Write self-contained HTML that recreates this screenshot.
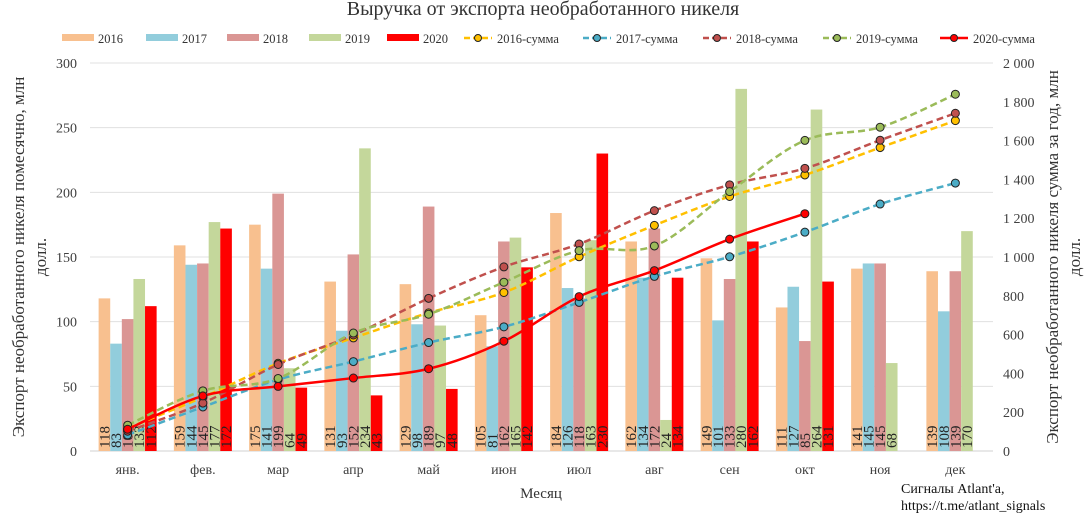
<!DOCTYPE html>
<html><head><meta charset="utf-8"><style>
body{margin:0;background:#fff;font-family:"Liberation Serif",serif;}
svg text{font-family:"Liberation Serif",serif;}
</style></head><body>
<svg id="c" width="1086" height="515" xmlns="http://www.w3.org/2000/svg"></svg>
<script>
const months=["янв.","фев.","мар","апр","май","июн","июл","авг","сен","окт","ноя","дек"];
const years=["2016","2017","2018","2019","2020"];
const v2016=[118,159,175,131,129,105,184,162,149,111,141,139];
const v2017=[83,144,141,93,98,81,126,134,101,127,145,108];
const v2018=[102,145,199,152,189,162,118,172,133,85,145,139];
const v2019=[133,177,64,234,97,165,163,24,280,264,68,170];
const v2020=[112,172,49,43,48,142,230,134,162,131];
const leftTicks=[0,50,100,150,200,250,300];
const rightTicks=[0,200,400,600,800,1000,1200,1400,1600,1800,2000];
const rightLabels=["0","200","400","600","800","1 000","1 200","1 400","1 600","1 800","2 000"];
const barColors=["#f8c08f","#92cddc","#da9694","#c4d79b","#ff0000"];
const lineColors=["#ffc000","#4bacc6","#c0504d","#9bbb59","#ff0000"];
const series=[v2016,v2017,v2018,v2019,v2020];
const svg=document.getElementById('c');const NS="http://www.w3.org/2000/svg";
function el(t,a,p){const e=document.createElementNS(NS,t);for(const k in a)e.setAttribute(k,a[k]);(p||svg).appendChild(e);return e;}
const x0=90,x1=993,yTop=63,yBot=451;
const cw=(x1-x0)/12;
const yL=v=>yBot-v/300*(yBot-yTop);
const yR=v=>yBot-v/2000*(yBot-yTop);
const xc=i=>x0+cw*(i+0.5);
let t=el('text',{x:543,y:15,'font-size':20,'text-anchor':'middle',fill:'#333'});t.textContent="Выручка от экспорта необработанного никеля";

leftTicks.forEach(v=>{const g=el('line',{x1:x0,x2:x1,y1:yL(v),y2:yL(v),stroke:v==0?'#d0d0d0':'#e0e0e0'});

const l=el('text',{x:77,y:yL(v)+5,'font-size':14,'text-anchor':'end',fill:'#404040'});l.textContent=v;
});
rightTicks.forEach((v,i)=>{const l=el('text',{x:1003,y:yR(v)+5,'font-size':14,fill:'#404040'});l.textContent=rightLabels[i];
});
months.forEach((m,i)=>{const l=el('text',{x:xc(i),y:474,'font-size':14,'text-anchor':'middle',fill:'#404040'});l.textContent=m;
});
const bw=11.6;
series.forEach((s,k)=>{s.forEach((v,i)=>{const bx=xc(i)-2.5*bw+k*bw;
const r=el('rect',{x:bx,y:yL(v),width:bw,height:yBot-yL(v),fill:barColors[k]});

const tx=el('text',{x:0,y:0,'font-size':15,fill:'#222',transform:`translate(${bx+bw/2+5},${yBot-3}) rotate(-90)`});tx.textContent=v;
});});
series.forEach((s,k)=>{let c=0;const pts=s.map((v,i)=>{c+=v;return [xc(i),yR(c)];});
let d="M"+pts[0][0]+","+pts[0][1];
for(let i=1;i<pts.length;i++){const p0=pts[Math.max(i-2,0)],p1=pts[i-1],p2=pts[i],p3=pts[Math.min(i+1,pts.length-1)];
d+=` C${p1[0]+(p2[0]-p0[0])/6},${p1[1]+(p2[1]-p0[1])/6} ${p2[0]-(p3[0]-p1[0])/6},${p2[1]-(p3[1]-p1[1])/6} ${p2[0]},${p2[1]}`;}
const p=el('path',{d:d,fill:'none',stroke:lineColors[k],'stroke-width':2.5,'stroke-dasharray':k==4?'none':'7,4'});

pts.forEach(q=>{const m=el('circle',{cx:q[0],cy:q[1],r:4,fill:lineColors[k],stroke:'#222','stroke-width':1});
});});
const lg=[[62,'2016',0,'b'],[146,'2017',1,'b'],[227,'2018',2,'b'],[309,'2019',3,'b'],[387,'2020',4,'b'],[464,'2016-сумма',0,'l'],[583,'2017-сумма',1,'l'],[703,'2018-сумма',2,'l'],[823,'2019-сумма',3,'l'],[940,'2020-сумма',4,'l']];
lg.forEach(a=>{const g=el('g',{});
if(a[3]=='b'){el('rect',{x:a[0],y:34,width:32,height:7,fill:barColors[a[2]]},g);}
else{el('line',{x1:a[0],x2:a[0]+28,y1:38,y2:38,stroke:lineColors[a[2]],'stroke-width':2.5,'stroke-dasharray':a[2]==4?'none':'6,3'},g);
el('circle',{cx:a[0]+14,cy:38,r:3.5,fill:lineColors[a[2]],stroke:'#222'},g);}
const tt=el('text',{x:a[0]+(a[3]=='b'?36:33),y:43,'font-size':12.5,fill:'#333'},g);tt.textContent=a[1];});
let a1=el('text',{x:0,y:0,'font-size':17,'text-anchor':'middle',fill:'#333',transform:'translate(24,257) rotate(-90)'});a1.textContent="Экспорт необработанного никеля помесячно, млн";

let a1b=el('text',{x:0,y:0,'font-size':17,'text-anchor':'middle',fill:'#333',transform:'translate(46,257) rotate(-90)'});a1b.textContent="долл.";

let a2=el('text',{x:0,y:0,'font-size':17,'text-anchor':'middle',fill:'#333',transform:'translate(1058,257) rotate(-90)'});a2.textContent="Экспорт необработанного никеля сумма за год, млн";

let a2b=el('text',{x:0,y:0,'font-size':17,'text-anchor':'middle',fill:'#333',transform:'translate(1080,257) rotate(-90)'});a2b.textContent="долл.";

let xt=el('text',{x:541,y:498,'font-size':15,'text-anchor':'middle',fill:'#333'});xt.textContent="Месяц";

let s1=el('text',{x:901,y:493,'font-size':14,fill:'#111'});s1.textContent="Сигналы Atlant'a,";

let s2=el('text',{x:901,y:510,'font-size':14,fill:'#111'});s2.textContent="https://t.me/atlant_signals";

</script>
</body></html>
